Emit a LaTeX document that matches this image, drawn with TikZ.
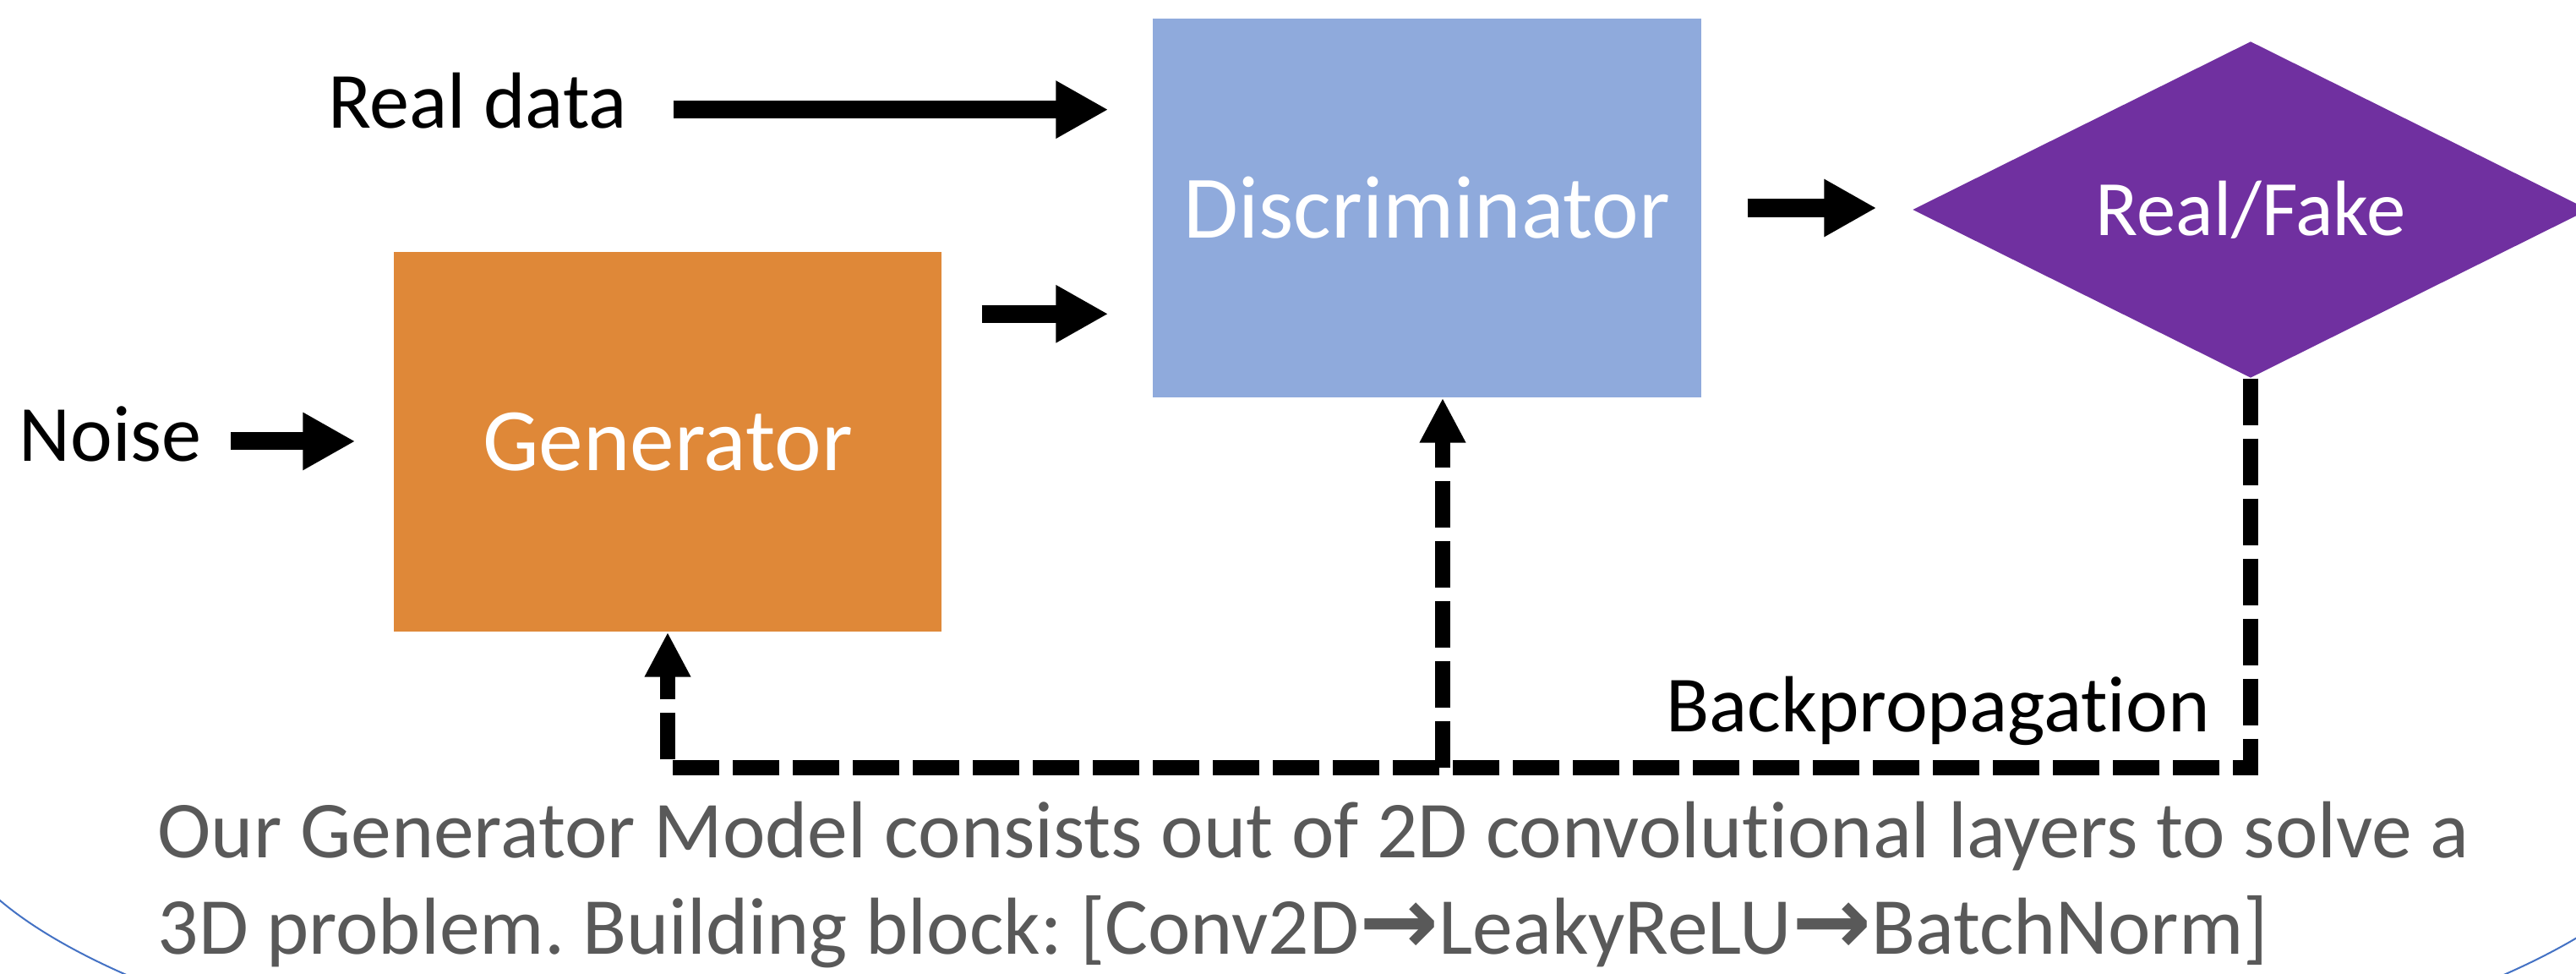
\documentclass[tikz,border=0pt]{standalone}
\usepackage{fontspec}
\setmainfont{Carlito}[Ligatures=NoCommon]
\newfontfamily\arrowfont{DejaVu Sans}[BoldFont=* Bold]
\usetikzlibrary{arrows.meta,shapes.geometric}
\definecolor{genorange}{HTML}{DF8838}
\definecolor{discblue}{HTML}{8FAADC}
\definecolor{rfpurple}{HTML}{7030A0}
\definecolor{capgray}{HTML}{595959}
\definecolor{arcblue}{HTML}{4472C4}
\newcommand{\nxt}{{\arrowfont\bfseries\fontsize{32}{32}\selectfont →}}
\frenchspacing
\begin{document}
\begin{tikzpicture}[line join=miter,
    lbl/.style={inner sep=0pt,font=\fontsize{26.8}{31}\selectfont},
    blk/.style={text=white,inner sep=0pt,font=\fontsize{30}{35}\selectfont},
    flow/.style={line width=0.21cm,-{Triangle[length=0.62cm,width=0.64cm]}},
    back/.style={line width=0.18cm,dash pattern=on 0.55cm off 0.16cm,-{Triangle[length=0.53cm,width=0.51cm]}},
    captxt/.style={text=capgray,anchor=base west,inner sep=0pt,font=\fontsize{27.2}{32}\selectfont}]
    \useasboundingbox (0,0) rectangle (30.48,-11.52);
    \begin{scope}
        \clip (0,0) rectangle (30.48,-11.52);
        \draw[arcblue,line width=0.02cm] (-0.69,-9.45) arc[start angle=180,end angle=360,x radius=16.25,y radius=4.15];
    \end{scope}
    \node[blk,fill=genorange,minimum width=6.48cm,minimum height=4.49cm] (G) at (7.90,-5.225) {Generator};
    \node[blk,fill=discblue,minimum width=6.49cm,minimum height=4.48cm] (D) at (16.885,-2.46) {Discriminator};
    \node[blk,diamond,aspect=2,fill=rfpurple,minimum width=8cm,minimum height=3.98cm,font=\fontsize{26.4}{31}\selectfont] (RF) at (26.63,-2.48) {Real/Fake};
    \node[lbl,anchor=base] (rd) at (5.65,-1.52) {Real data};
    \node[lbl,anchor=base] (nz) at (1.305,-5.45) {Noise};
    \node[lbl,anchor=base] (bp) at (22.93,-8.65) {Backpropagation};
    \draw[flow] ([xshift=5.4mm,yshift=-1mm]rd.east) -- ([xshift=-5.2mm,yshift=-1mm]D.west |- rd.east);
    \draw[flow] ([xshift=3.4mm,yshift=-0.9mm]nz.east) -- ([xshift=-4.5mm,yshift=-0.9mm]G.west |- nz.east);
    \draw[flow] ([xshift=4.7mm,yshift=-7.4mm]G.north east) -- ([xshift=-5.2mm,yshift=-7.4mm]D.west |- G.north east);
    \draw[flow] ([xshift=5.4mm]D.east) -- ([xshift=-4.2mm]RF.west |- D.east);
    % backpropagation
    \coordinate (bot) at (17.07,-9.08);
    \draw[back] (RF.south) -- (RF.south |- bot) -- (G.south |- bot) -- (G.south);
    \draw[back] (bot) -- (bot |- D.south);
    \node[captxt] (c1) at (1.86,-10.14) {Our Generator Model consists out of 2D convolutional layers to solve a};
    \node[captxt] (c2) at (1.86,-11.28) {3D problem. Building block: [Conv2D\nxt LeakyReLU\nxt BatchNorm]};
\end{tikzpicture}
\end{document}
